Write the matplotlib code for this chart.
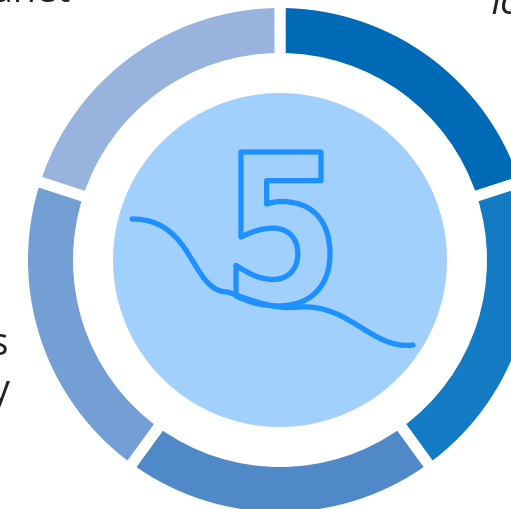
import matplotlib
matplotlib.use("Agg")
import matplotlib.pyplot as plt
from matplotlib.patches import Circle, PathPatch
from matplotlib.path import Path
from matplotlib.textpath import TextPath
from matplotlib.font_manager import FontProperties
from matplotlib.transforms import Affine2D

W, H = 511, 509

# five equal ring segments, clockwise from the top
segments = [1, 1, 1, 1, 1]
seg_colors = ["#006AB7", "#137BC3", "#4F89C7", "#739FD4", "#98B4DE"]
center_label = "5"

# hand-drawn wave: start point, then (ctrl1, ctrl2, end) per cubic piece (pixels, y down)
wave_start = (132, 219)
wave_pieces = [((195, 219), (190, 292), (228, 292)),
               ((252, 301), (276, 310), (300, 307)),
               ((350, 304), (372, 350), (413, 345))]

# cut-off words around the edges: text, x, baseline y, align, style
edge_words = [("Planet", 71, 2, "right", "normal"),
              ("Icon", 490, 14, "left", "italic"),
              ("Tools", 9, 355, "right", "normal"),
              ("Strategy", 10, 402, "right", "normal")]

cx, cy = 280, 260
r_out, r_in, r_disc = 252, 207, 167
gap = 11  # px

fig = plt.figure(figsize=(W / 100, H / 100), dpi=100)
ax = fig.add_axes([0, 0, 1, 1])

ax.pie(segments, colors=seg_colors, startangle=90, counterclock=False,
       center=(cx, H - cy), radius=r_out + gap / 2,
       wedgeprops=dict(width=r_out - r_in + gap, edgecolor="white",
                       linewidth=gap * 72 / 100))

ax.add_patch(Circle((cx, H - cy), r_disc, facecolor="#A2D0FC", edgecolor="none", zorder=3))

# outlined digit, fitted to its box
tp = TextPath((0, 0), center_label,
              prop=FontProperties(family="DejaVu Sans", weight="bold"), size=100)
ext = tp.get_extents()
x0, x1, y0, y1 = 236, 330, 152, 306
tr = (Affine2D().translate(-ext.x0, -ext.y0)
      .scale((x1 - x0) / ext.width, (y1 - y0) / ext.height)
      .translate(x0, H - y1))
ax.add_patch(PathPatch(tr.transform_path(tp), facecolor="none", edgecolor="#1E90FF",
                       linewidth=3.8, joinstyle="round", zorder=4))

# wave
flip = lambda p: (p[0], H - p[1])
verts = [flip(wave_start)]
codes = [Path.MOVETO]
for piece in wave_pieces:
    verts += [flip(p) for p in piece]
    codes += [Path.CURVE4] * 3
ax.add_patch(PathPatch(Path(verts, codes), facecolor="none", edgecolor="#1E90FF",
                       linewidth=3.8, capstyle="round", joinstyle="round", zorder=4))

for txt, x, y, ha, st in edge_words:
    ax.text(x, H - y, txt, ha=ha, va="baseline", fontsize=27, style=st,
            family="Open Sans", color="#222222", zorder=5)

ax.set_xlim(0, W)
ax.set_ylim(0, H)
ax.set_aspect("equal")
ax.axis("off")

fig.savefig("out.png", dpi=100)
